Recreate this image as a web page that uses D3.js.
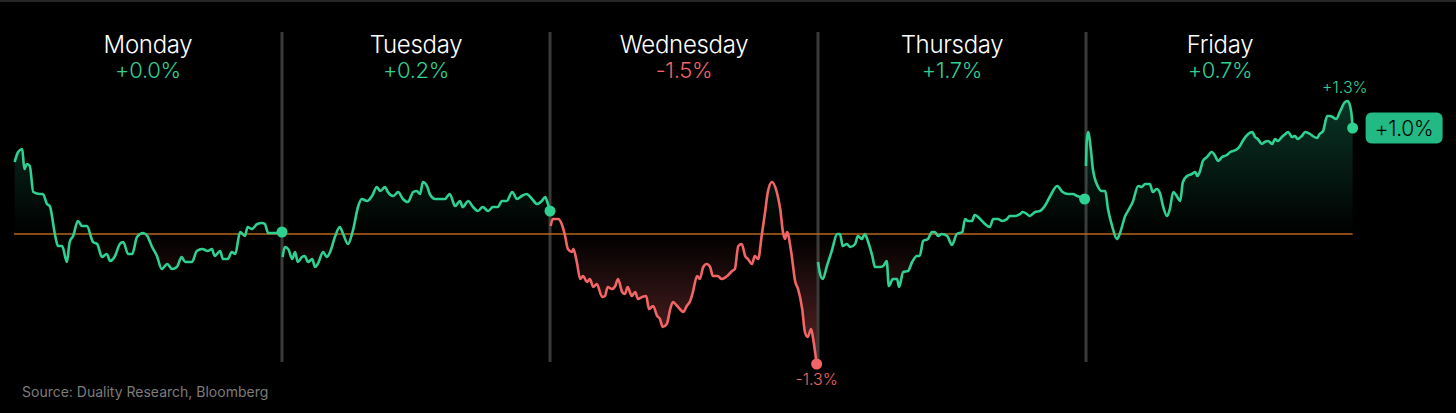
<!DOCTYPE html>
<html>
<head>
<meta charset="utf-8">
<script src="https://cdn.jsdelivr.net/npm/d3@7"></script>
<style>
  body { margin: 0; background: #000; }
  svg { display: block; font-family: Inter, "Noto Sans", sans-serif; }
</style>
</head>
<body>
<script>
// days and their daily change
var days = ["Monday", "Tuesday", "Wednesday", "Thursday", "Friday"];
var dayChange = [0.0, 0.2, -1.5, 1.7, 0.7];

// cumulative week return, [minute since open, %]
var mon = [[1,0.72],[6,0.82],[12,0.85],[15,0.65],[19,0.70],[23,0.68],[28,0.42],[38,0.40],[42,0.40],[48,0.30],
  [52,0.28],[60,-0.02],[64,-0.12],[70,-0.12],[77,-0.28],[81,-0.08],[86,-0.02],[93,0.13],[99,0.08],[106,0.08],
  [115,-0.08],[121,-0.10],[128,-0.23],[135,-0.20],[140,-0.27],[147,-0.22],[154,-0.10],[159,-0.08],[166,-0.20],
  [172,-0.20],[179,-0.03],[188,0.01],[194,-0.02],[201,-0.13],[208,-0.22],[215,-0.35],[223,-0.30],[230,-0.35],
  [237,-0.33],[244,-0.23],[249,-0.28],[259,-0.28],[266,-0.17],[274,-0.15],[282,-0.17],[288,-0.15],[292,-0.22],
  [300,-0.17],[304,-0.25],[311,-0.25],[317,-0.18],[322,-0.20],[329,0.02],[336,-0.02],[340,0.07],[346,0.05],
  [354,0.10],[361,0.11],[365,0.10],[370,0.01],[380,0.01],[390,0.02]];
var tue = [[1,-0.23],[4,-0.13],[9,-0.15],[15,-0.25],[19,-0.18],[23,-0.28],[29,-0.23],[33,-0.22],[38,-0.28],
  [44,-0.25],[48,-0.33],[52,-0.30],[60,-0.18],[65,-0.23],[70,-0.18],[77,-0.03],[84,0.07],[89,0.00],[96,-0.10],
  [103,0.03],[111,0.28],[116,0.35],[124,0.33],[131,0.38],[138,0.47],[143,0.43],[150,0.47],[154,0.42],[162,0.38],
  [169,0.42],[176,0.35],[183,0.32],[191,0.42],[196,0.43],[201,0.40],[205,0.52],[211,0.48],[215,0.40],[223,0.35],
  [230,0.35],[237,0.35],[244,0.40],[252,0.28],[259,0.33],[263,0.27],[271,0.33],[278,0.27],[285,0.23],[292,0.27],
  [300,0.23],[307,0.27],[314,0.27],[320,0.33],[327,0.33],[335,0.42],[342,0.35],[349,0.38],[356,0.40],[364,0.35],
  [371,0.30],[378,0.33],[383,0.37],[387,0.30],[390,0.23]];
var wed = [[1,0.08],[4,0.15],[12,0.15],[17,0.10],[22,-0.02],[26,-0.15],[32,-0.18],[34,-0.15],[39,-0.28],
  [44,-0.45],[48,-0.42],[54,-0.48],[58,-0.45],[63,-0.53],[68,-0.50],[76,-0.63],[80,-0.62],[84,-0.53],[90,-0.55],
  [95,-0.52],[99,-0.45],[105,-0.58],[109,-0.60],[113,-0.53],[119,-0.62],[124,-0.58],[128,-0.65],[134,-0.63],
  [140,-0.62],[144,-0.75],[150,-0.72],[156,-0.82],[160,-0.85],[164,-0.93],[170,-0.90],[175,-0.75],[179,-0.68],
  [185,-0.72],[189,-0.75],[194,-0.78],[199,-0.72],[204,-0.67],[208,-0.58],[214,-0.42],[218,-0.45],[223,-0.33],
  [228,-0.30],[233,-0.33],[237,-0.42],[244,-0.42],[250,-0.45],[258,-0.42],[265,-0.37],[269,-0.35],[274,-0.12],
  [279,-0.10],[284,-0.22],[288,-0.25],[294,-0.30],[298,-0.22],[303,-0.25],[308,-0.02],[313,0.22],[317,0.42],
  [323,0.52],[330,0.42],[335,0.25],[339,0.02],[342,-0.05],[345,0.02],[351,-0.18],[357,-0.48],[361,-0.55],
  [367,-0.75],[371,-0.98],[375,-1.03],[380,-0.95],[383,-1.05],[388,-1.30]];
var thu = [[0,-0.28],[3,-0.40],[7,-0.45],[13,-0.32],[20,-0.17],[28,0.00],[32,0.00],[36,-0.12],[42,-0.10],
  [47,-0.13],[54,-0.10],[58,-0.02],[64,-0.05],[68,0.00],[73,-0.08],[79,-0.22],[83,-0.33],[90,-0.33],[95,-0.32],
  [100,-0.27],[103,-0.52],[109,-0.45],[115,-0.45],[118,-0.53],[124,-0.38],[131,-0.37],[137,-0.28],[144,-0.22],
  [148,-0.22],[153,-0.07],[160,-0.05],[166,0.02],[170,0.02],[175,-0.02],[180,0.00],[188,-0.02],[195,-0.11],
  [202,0.00],[210,0.02],[214,0.15],[218,0.13],[224,0.13],[228,0.19],[236,0.15],[243,0.10],[250,0.07],[255,0.15],
  [262,0.15],[268,0.13],[275,0.15],[279,0.18],[287,0.18],[294,0.20],[298,0.22],[304,0.20],[308,0.18],[316,0.22],
  [323,0.23],[330,0.28],[338,0.38],[348,0.48],[356,0.42],[364,0.40],[371,0.40],[377,0.38],[381,0.37],[388,0.35]];
var fri = [[0,0.68],[1,0.92],[3,1.02],[7,0.85],[10,0.65],[17,0.48],[23,0.43],[28,0.43],[32,0.25],[38,0.08],
  [45,-0.05],[49,0.00],[57,0.18],[61,0.23],[68,0.32],[76,0.48],[81,0.47],[86,0.50],[93,0.50],[97,0.42],
  [103,0.45],[108,0.40],[112,0.28],[118,0.18],[122,0.25],[127,0.42],[132,0.38],[137,0.33],[141,0.52],[147,0.58],
  [154,0.60],[159,0.62],[162,0.58],[166,0.63],[170,0.73],[176,0.77],[183,0.82],[188,0.78],[192,0.73],[198,0.77],
  [205,0.79],[210,0.82],[214,0.83],[220,0.85],[224,0.88],[228,0.93],[236,1.00],[242,1.02],[246,0.97],[250,0.95],
  [256,0.90],[260,0.92],[265,0.93],[271,0.90],[275,0.95],[279,0.93],[285,0.97],[290,1.00],[294,1.02],[300,0.97],
  [304,0.98],[308,0.95],[314,0.98],[319,1.02],[326,1.00],[330,0.98],[336,0.96],[340,1.00],[345,1.03],[351,1.18],
  [355,1.18],[359,1.17],[364,1.15],[370,1.23],[377,1.32],[381,1.33],[386,1.22],[388,1.06]];
var series = [mon, tue, wed, thu, fri];

var source = "Source: Duality Research, Bloomberg";
var lastLabel = "+1.0%";

var width = 1456, height = 413;
var green = "#2fd193", red = "#f26565", badge = "#22b984";
var session = 390;

var x = d3.scaleLinear().domain([0, 5 * session]).range([14, 1354]);
var y = d3.scaleLinear().domain([-1.3, 1.3]).range([364, 104]);

var svg = d3.select("body").append("svg")
    .attr("width", width)
    .attr("height", height);

svg.append("rect").attr("width", width).attr("height", height).attr("fill", "#000");
svg.append("rect").attr("width", width).attr("height", 2).attr("fill", "#262626");

// gradient: green above zero, red below, both fading into the zero line
var defs = svg.append("defs");
var zeroOff = (y(0) - y(1.3)) / (y(-1.3) - y(1.3));
var grad = defs.append("linearGradient")
    .attr("id", "fillGrad")
    .attr("gradientUnits", "userSpaceOnUse")
    .attr("x1", 0).attr("x2", 0)
    .attr("y1", y(1.3)).attr("y2", y(-1.3));
grad.append("stop").attr("offset", 0).attr("stop-color", badge).attr("stop-opacity", 0.28);
grad.append("stop").attr("offset", zeroOff).attr("stop-color", badge).attr("stop-opacity", 0);
grad.append("stop").attr("offset", zeroOff).attr("stop-color", red).attr("stop-opacity", 0);
grad.append("stop").attr("offset", 1).attr("stop-color", red).attr("stop-opacity", 0.38);

// day dividers
svg.selectAll(".divider")
    .data(d3.range(1, 5))
    .enter().append("line")
    .attr("class", "divider")
    .attr("x1", function(d) { return x(d * session); })
    .attr("x2", function(d) { return x(d * session); })
    .attr("y1", 32).attr("y2", 362)
    .attr("stroke", "#3a3a3a")
    .attr("stroke-width", 3);

var area = d3.area()
    .x(function(d) { return x(d[0]); })
    .y0(y(0))
    .y1(function(d) { return y(d[1]); })
    .curve(d3.curveMonotoneX);
var line = d3.line()
    .x(function(d) { return x(d[0]); })
    .y(function(d) { return y(d[1]); })
    .curve(d3.curveMonotoneX);

function shift(s, i) {
    return s.map(function(p) { return [p[0] + i * session, p[1]]; });
}

series.forEach(function(s, i) {
    svg.append("path")
        .datum(shift(s, i))
        .attr("d", area)
        .attr("fill", "url(#fillGrad)");
});

// zero line
svg.append("line")
    .attr("x1", x(0)).attr("x2", x(fri[fri.length - 1][0] + 4 * session))
    .attr("y1", y(0)).attr("y2", y(0))
    .attr("stroke", "#b8661f")
    .attr("stroke-width", 1.5);

series.forEach(function(s, i) {
    var col = dayChange[i] < 0 ? red : green;
    svg.append("path")
        .datum(shift(s, i))
        .attr("d", line)
        .attr("fill", "none")
        .attr("stroke", col)
        .attr("stroke-width", 2.6)
        .attr("stroke-linejoin", "round");
    var last = s[s.length - 1];
    svg.append("circle")
        .attr("cx", x(last[0] + i * session))
        .attr("cy", y(last[1]))
        .attr("r", 5.5)
        .attr("fill", col);
});

// headers
svg.selectAll(".day")
    .data(days)
    .enter().append("text")
    .attr("class", "day")
    .attr("x", function(d, i) { return x((i + 0.5) * session); })
    .attr("y", 53)
    .attr("text-anchor", "middle")
    .attr("fill", "#fff")
    .style("font-size", "24px")
    .style("font-weight", 300)
    .style("letter-spacing", "-0.3px")
    .text(function(d) { return d; });

svg.selectAll(".chg")
    .data(dayChange)
    .enter().append("text")
    .attr("class", "chg")
    .attr("x", function(d, i) { return x((i + 0.5) * session); })
    .attr("y", 78)
    .attr("text-anchor", "middle")
    .attr("fill", function(d) { return d < 0 ? red : green; })
    .style("font-size", "22px")
    .style("font-weight", 300)
    .style("letter-spacing", "-0.3px")
    .text(function(d) { return (d < 0 ? "-" : "+") + Math.abs(d).toFixed(1) + "%"; });

// min label on Wednesday, max label on Friday
var wedLast = wed[wed.length - 1];
svg.append("text")
    .attr("x", x(wedLast[0] + 2 * session))
    .attr("y", y(wedLast[1]) + 21)
    .attr("text-anchor", "middle")
    .attr("fill", red)
    .style("font-size", "16px")
    .style("font-weight", 300)
    .text((wedLast[1] < 0 ? "-" : "+") + Math.abs(wedLast[1]).toFixed(1) + "%");

var friMax = fri.reduce(function(a, b) { return b[1] > a[1] ? b : a; });
svg.append("text")
    .attr("x", x(friMax[0] + 4 * session) - 3)
    .attr("y", y(friMax[1]) - 8)
    .attr("text-anchor", "middle")
    .attr("fill", green)
    .style("font-size", "16px")
    .style("font-weight", 300)
    .text("+" + friMax[1].toFixed(1) + "%");

// end badge
var friLast = fri[fri.length - 1];
var bx = x(friLast[0] + 4 * session) + 13, by = y(friLast[1]);
svg.append("rect")
    .attr("x", bx).attr("y", by - 15.5)
    .attr("width", 77).attr("height", 31)
    .attr("rx", 6)
    .attr("fill", badge);
svg.append("text")
    .attr("x", bx + 38.5).attr("y", by + 7.5)
    .attr("text-anchor", "middle")
    .attr("fill", "#050505")
    .style("font-size", "21px")
    .style("font-weight", 300)
    .style("letter-spacing", "-0.3px")
    .text(lastLabel);

svg.append("text")
    .attr("x", 22).attr("y", 397)
    .attr("fill", "#7c7c7c")
    .style("font-size", "14px")
    .text(source);
</script>
</body>
</html>
